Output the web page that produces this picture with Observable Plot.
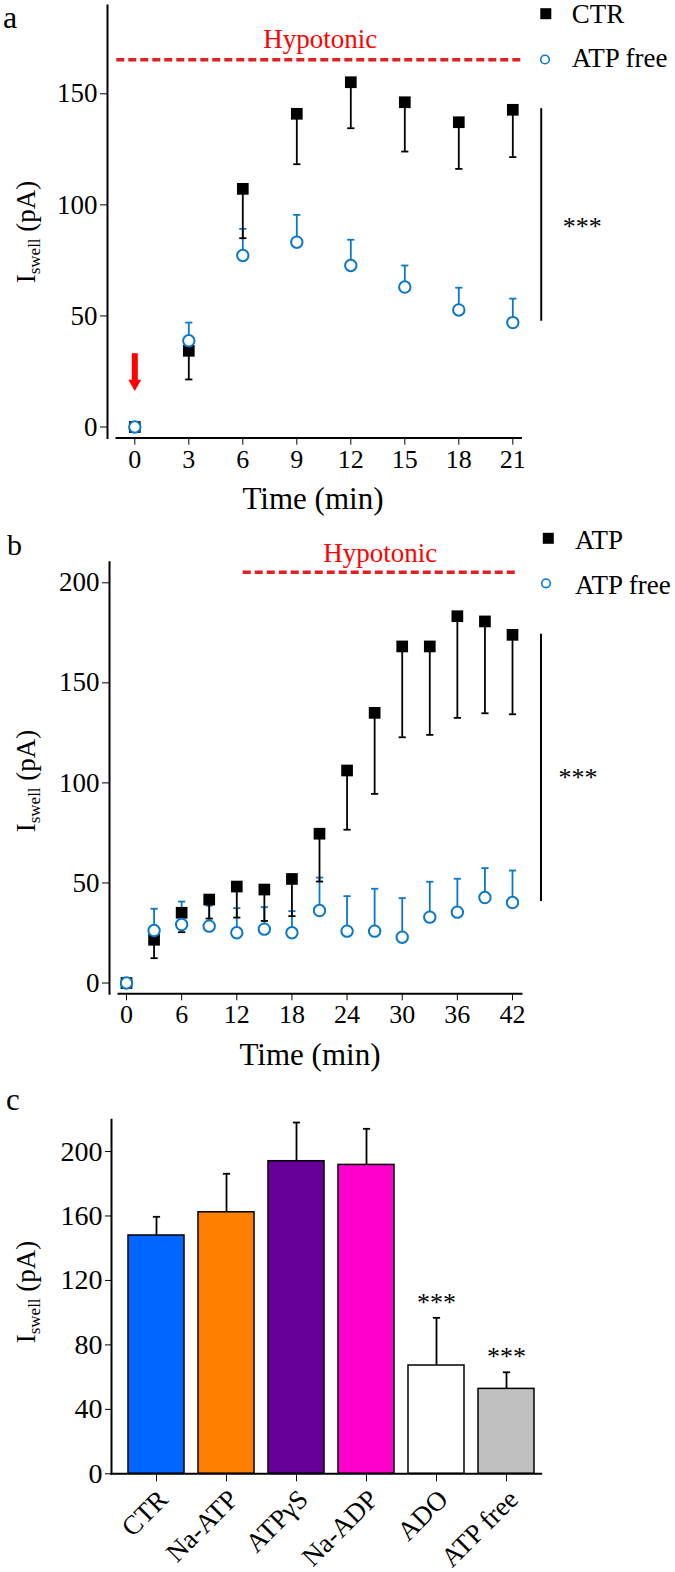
<!DOCTYPE html>
<html><head><meta charset="utf-8">
<script src="https://cdn.jsdelivr.net/npm/d3@7"></script>
<script src="https://cdn.jsdelivr.net/npm/@observablehq/plot@0.6"></script>
<style>
html,body{margin:0;padding:0;background:#fff;}
#root{position:relative;width:675px;height:1572px;font-family:"Liberation Serif","Times New Roman",serif;overflow:hidden;}
#root svg{position:absolute;left:0;}
</style></head><body><div id="root"></div>
<script>
// ---------- DATA ----------
// Panel a
const seriesA = ["CTR", "ATP free"];
const timeA = [0, 3, 6, 9, 12, 15, 18, 21];
const ctrA = [0, 34.3, 107.2, 141, 155.2, 146.2, 137.2, 142.8];
const ctrLowA = [0, 21.4, 85, 118.3, 134.5, 124, 116.2, 121.5];
const freeA = [0, 38.8, 77.2, 83.2, 72.7, 63, 52.7, 47];
const freeHighA = [0, 47, 89.2, 95.5, 84.3, 72.7, 62.7, 57.8];
const yTicksA = [0, 50, 100, 150];
const xTicksA = [0, 3, 6, 9, 12, 15, 18, 21];
const hypoA = [{start: -1.0, end: 21.6, level: 165.3, label: "Hypotonic"}];
const arrowA = [{t: 0, top: 33, tip: 16.4}];
const sigA = [{t: 22.58, low: 47.6, high: 143.3, label: "***"}];

// Panel b
const seriesB = ["ATP", "ATP free"];
const timeB = [0, 3, 6, 9, 12, 15, 18, 21, 24, 27, 30, 33, 36, 39, 42];
const atpB = [0, 21.6, 35.1, 41.7, 48.2, 46.7, 52, 74.6, 106.2, 135, 168.2, 168.2, 183.3, 180.7, 174];
const atpLowB = [0, 12.4, 25.4, 32.2, 32.7, 31, 33.4, 50.7, 76.6, 94.5, 122.8, 124, 132.5, 134.8, 134.3];
const freeB = [0, 26.2, 29.2, 28.4, 25.1, 26.9, 25.1, 36.2, 25.9, 25.9, 22.9, 32.9, 35.4, 42.7, 40.2];
const freeHighB = [0, 37.1, 40.7, 38.7, 37.4, 37.9, 35.9, 52.7, 43.4, 47.1, 42.4, 50.6, 52.1, 57.4, 56.2];
const yTicksB = [0, 50, 100, 150, 200];
const xTicksB = [0, 6, 12, 18, 24, 30, 36, 42];
const hypoB = [{start: 12.7, end: 42.5, level: 205.3, label: "Hypotonic"}];
const sigB = [{t: 45.1, low: 40.7, high: 174.3, label: "***"}];

// Panel c
const groupsC = ["CTR", "Na-ATP", "ATPγS", "Na-ADP", "ADO", "ATP free"];
const meanC = [147.9, 162.3, 194, 191.7, 67.2, 52.7];
const errTopC = [159.5, 186.2, 218, 214.1, 96.8, 63];
const colorsC = ["#0066ff", "#ff8000", "#660099", "#ff00cc", "#ffffff", "#c0c0c0"];
const sigC = ["", "", "", "", "***", "***"];
const yTicksC = [0, 40, 80, 120, 160, 200];

// ---------- STYLE ----------
const FONT = '"Liberation Serif", "Times New Roman", serif';
const BLUE = "#0a78c8";
const RED_LINE = "#e02020";
const RED_TEXT = "#ff0000";
const capSymbol = {draw(ctx, size) { const w = Math.sqrt(size / Math.PI); ctx.moveTo(-w, 0); ctx.lineTo(w, 0); }};

const root = document.getElementById("root");
const baseStyle = fs => ({fontFamily: FONT, fontSize: fs + "px", color: "black", background: "transparent", overflow: "visible"});

function timePanel(cfg) {
  const blackRows = cfg.time.map((t, i) => ({t, mean: cfg.black[i], end: cfg.blackLow[i]}));
  const blueRows = cfg.time.map((t, i) => ({t, mean: cfg.blue[i], end: cfg.blueHigh[i]}));
  const marks = [
    Plot.ruleY(cfg.hypo, {y: "level", x1: "start", x2: "end", stroke: RED_LINE, strokeWidth: 3.5, strokeDasharray: "8,4"}),
    Plot.text(cfg.hypo, {x: d => (d.start + d.end) / 2, y: "level", text: "label", lineAnchor: "bottom", dy: cfg.hypoDy, fill: RED_TEXT, fontSize: 27}),
    Plot.ruleX(blueRows, {x: "t", y1: "mean", y2: "end", stroke: BLUE, strokeWidth: 1.8}),
    Plot.dot(blueRows, {x: "t", y: "end", symbol: capSymbol, r: 3.6, stroke: BLUE, strokeWidth: 1.8, fill: "none"}),
    Plot.ruleX(blackRows, {x: "t", y1: "mean", y2: "end", stroke: "black", strokeWidth: 1.8}),
    Plot.dot(blackRows, {x: "t", y: "end", symbol: capSymbol, r: 3.6, stroke: "black", strokeWidth: 1.8, fill: "none"}),
    Plot.dot(blackRows, {x: "t", y: "mean", symbol: "square", r: 6.6, fill: "black", stroke: "none"}),
    Plot.dot(blueRows, {x: "t", y: "mean", r: 5.7, fill: "white", stroke: BLUE, strokeWidth: 2}),
    Plot.ruleX(cfg.sig, {x: "t", y1: "low", y2: "high", stroke: "black", strokeWidth: 2}),
    Plot.text(cfg.sig, {x: "t", y: d => (d.low + d.high) / 2, text: "label", dx: cfg.sigDx, dy: cfg.sigDy, textAnchor: "middle", fontSize: 26}),
    Plot.frame({anchor: "left", stroke: "black", strokeWidth: 2}),
    Plot.frame({anchor: "bottom", insetLeft: 9, stroke: "black", strokeWidth: 2}),
    Plot.axisY(cfg.yTicks, {anchor: "left", tickSize: 7, tickPadding: 3, fontSize: 27, label: null}),
    Plot.axisX(cfg.xTicks, {anchor: "bottom", tickSize: 7, tickPadding: 4, fontSize: 26, label: null})
  ];
  if (cfg.arrow) {
    marks.push(
      Plot.ruleX(cfg.arrow, {x: "t", y1: "top", y2: "tip", insetBottom: 7, stroke: RED_TEXT, strokeWidth: 6}),
      Plot.dot(cfg.arrow, {x: "t", y: "tip", symbol: "triangle", rotate: 180, r: 4.8, dy: -7, fill: RED_TEXT, stroke: "none"})
    );
  }
  const svg = Plot.plot({
    width: 675, height: cfg.height,
    marginTop: cfg.mTop, marginBottom: cfg.mBottom, marginLeft: cfg.mLeft, marginRight: cfg.mRight,
    x: {domain: cfg.xDomain, range: cfg.xRange},
    y: {domain: cfg.yDomain, range: cfg.yRange},
    style: baseStyle(27),
    marks
  });
  svg.style.top = cfg.top + "px";
  root.appendChild(svg);
  return svg;
}

// Panel a
timePanel({
  top: 0, height: 520, mTop: 5, mBottom: 82.4, mLeft: 107, mRight: 154.6,
  xDomain: [0, 21], xRange: [134.3, 512.3], yDomain: [0, 150], yRange: [426.5, 93.3],
  time: timeA, black: ctrA, blackLow: ctrLowA, blue: freeA, blueHigh: freeHighA,
  yTicks: yTicksA, xTicks: xTicksA, hypo: hypoA, hypoDy: -12, sig: sigA, sigDx: 41, sigDy: 12, arrow: arrowA
});
// Panel b
timePanel({
  top: 520, height: 560, mTop: 41.7, mBottom: 86.7, mLeft: 109, mRight: 154,
  xDomain: [0, 42], xRange: [126, 512], yDomain: [0, 200], yRange: [462.5, 62.3],
  time: timeB, black: atpB, blackLow: atpLowB, blue: freeB, blueHigh: freeHighB,
  yTicks: yTicksB, xTicks: xTicksB, hypo: hypoB, hypoDy: -10, sig: sigB, sigDx: 37, sigDy: 10
});

// Panel c
const rowsC = groupsC.map((g, i) => ({group: g, mean: meanC[i], top: errTopC[i], color: colorsC[i], sig: sigC[i]}));
const svgC = Plot.plot({
  width: 675, height: 492,
  marginTop: 39.3, marginBottom: 98.7, marginLeft: 111, marginRight: 134.4,
  x: {domain: groupsC, range: [119, 542], paddingInner: 0.2, paddingOuter: 0.1},
  y: {domain: [0, 219.7]},
  color: {type: "identity"},
  style: baseStyle(27),
  marks: [
    Plot.ruleX(rowsC, {x: "group", y1: "mean", y2: "top", stroke: "black", strokeWidth: 1.8}),
    Plot.dot(rowsC, {x: "group", y: "top", symbol: capSymbol, r: 3.6, stroke: "black", strokeWidth: 1.8, fill: "none"}),
    Plot.barY(rowsC, {x: "group", y: "mean", fill: "color", stroke: "black", strokeWidth: 1.5}),
    Plot.text(rowsC, {x: "group", y: "top", text: "sig", lineAnchor: "bottom", dy: -7, fontSize: 26}),
    Plot.frame({anchor: "left", stroke: "black", strokeWidth: 2}),
    Plot.frame({anchor: "bottom", stroke: "black", strokeWidth: 2}),
    Plot.axisY(yTicksC, {anchor: "left", tickSize: 6, tickPadding: 3, fontSize: 28, label: null}),
    Plot.axisX({anchor: "bottom", tickSize: 8, tickPadding: 4, tickRotate: -45, fontSize: 27, label: null}),
  ]
});
// shift rotated category labels (text only, not ticks) to sit like the reference
svgC.querySelectorAll('[aria-label="x-axis tick label"]').forEach(g => {
  const tr = g.getAttribute("transform") || "";
  g.setAttribute("transform", tr + " translate(7,9)");
});
svgC.style.top = "1080px";
root.appendChild(svgC);

// ---------- Overlay: panel letters, axis titles, legends ----------
const ov = d3.select(root).append("svg").attr("width", 675).attr("height", 1572)
  .style("top", "0px").style("font-family", FONT);
[["a", 3, 28, 32], ["b", 7, 555, 30], ["c", 6, 1110, 31]].forEach(([t, x, y, s]) =>
  ov.append("text").attr("x", x).attr("y", y).attr("font-size", s).text(t));
[[313, 509], [310, 1065]].forEach(([x, y]) =>
  ov.append("text").attr("x", x).attr("y", y).attr("text-anchor", "middle").attr("font-size", 31).text("Time (min)"));
[232, 781, 1292].forEach(cy => {
  const t = ov.append("text").attr("transform", `translate(35,${cy}) rotate(-90)`).attr("text-anchor", "middle").attr("font-size", 27);
  t.append("tspan").text("I");
  t.append("tspan").attr("font-size", 17).attr("dy", 5).text("swell");
  t.append("tspan").attr("dy", -5).text(" (pA)");
});
function legend(names, sq, circ, tx, by1, by2) {
  ov.append("rect").attr("x", sq[0] - 5.5).attr("y", sq[1] - 5.5).attr("width", 11).attr("height", 11).attr("fill", "black");
  ov.append("circle").attr("cx", circ[0]).attr("cy", circ[1]).attr("r", 4.3).attr("fill", "white").attr("stroke", BLUE).attr("stroke-width", 1.6);
  ov.append("text").attr("x", tx).attr("y", by1).attr("font-size", 27).text(names[0]);
  ov.append("text").attr("x", tx).attr("y", by2).attr("font-size", 27).text(names[1]);
}
legend(seriesA, [545.8, 13.7], [545, 59.5], 571.7, 23, 67);
legend(seriesB, [548.3, 538.3], [546, 583.3], 575, 548.5, 593.5);
</script></body></html>
